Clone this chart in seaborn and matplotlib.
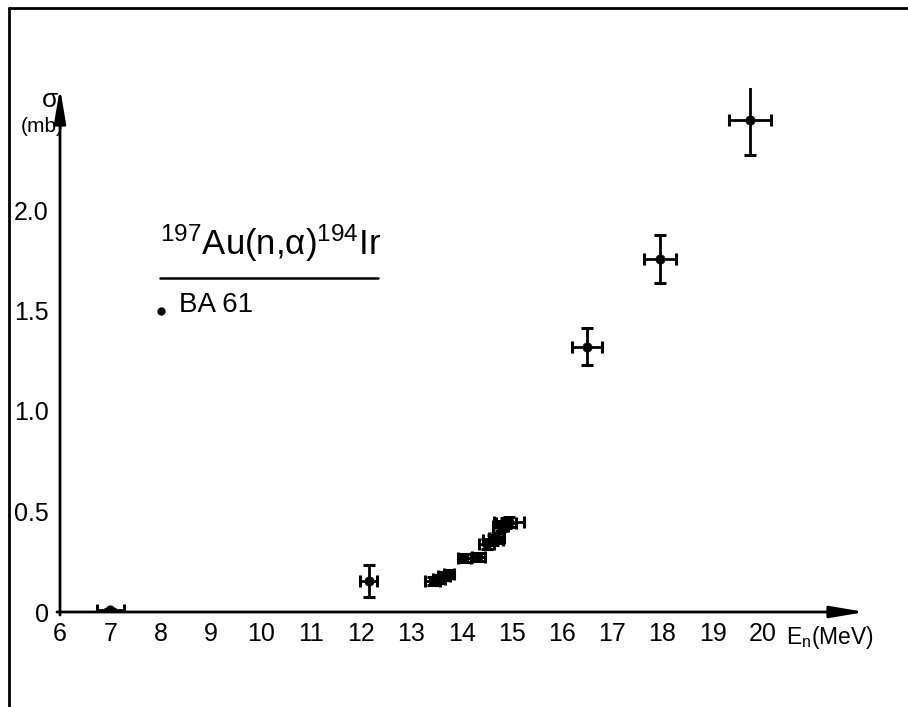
import matplotlib
matplotlib.use("Agg")
import matplotlib.pyplot as plt
from matplotlib.lines import Line2D
import seaborn as sns
import pandas as pd

# ---- data ----
energy = [7.0, 12.15, 13.42, 13.55, 13.65, 13.75, 14.05, 14.33, 14.5, 14.62,
          14.7, 14.78, 14.88, 14.95, 16.5, 17.95, 19.75]
sigma = [0.01, 0.155, 0.155, 0.165, 0.18, 0.19, 0.27, 0.275, 0.34, 0.36,
         0.37, 0.43, 0.445, 0.45, 1.32, 1.755, 2.45]
energy_err = [0.27, 0.17, 0.15, 0.12, 0.12, 0.1, 0.13, 0.13, 0.15, 0.2,
              0.15, 0.15, 0.2, 0.3, 0.3, 0.32, 0.42]
sigma_err = [0.006, 0.08, 0.02, 0.02, 0.02, 0.02, 0.02, 0.02, 0.025, 0.025,
             0.025, 0.025, 0.025, 0.025, 0.092, 0.12, 0.175]
x_ticks = [6, 7, 8, 9, 10, 11, 12, 13, 14, 15, 16, 17, 18, 19, 20]
y_ticks = [0, 0.5, 1.0, 1.5, 2.0]
y_tick_labels = ["0", "0.5", "1.0", "1.5", "2.0"]

df = pd.DataFrame({"E": energy, "sigma": sigma, "dE": energy_err, "ds": sigma_err})

sns.set_theme(style="white")
plt.rcParams["font.family"] = ["Liberation Sans", "DejaVu Sans"]
plt.rcParams["mathtext.fontset"] = "custom"
plt.rcParams["mathtext.rm"] = "Liberation Sans"
plt.rcParams["mathtext.it"] = "Liberation Sans"
plt.rcParams["text.color"] = "black"

W, H = 908, 707
fig = plt.figure(figsize=(W / 100, H / 100), dpi=100)
fig.patch.set_facecolor("white")

# axes: x 6 -> 60 px, 50.21 px/unit; y 0 -> 612 px from top, 201 px/unit
left_px, right_px = 60, 865
bottom_px, top_px = 612, 88
ax = fig.add_axes([left_px / W, (H - bottom_px) / H,
                   (right_px - left_px) / W, (bottom_px - top_px) / H])
xmax = 6 + (right_px - left_px) / 50.21
ymax = (bottom_px - top_px) / 201.0
ax.set_xlim(6, xmax)
ax.set_ylim(0, ymax)
ax.set_facecolor("white")

for s in ax.spines.values():
    s.set_visible(False)

# axes as arrows
arrow_kw = dict(arrowstyle="-|>,head_length=1.3,head_width=0.22", color="black",
                lw=2.0, mutation_scale=16, shrinkA=0, shrinkB=0)
ax.annotate("", xy=(xmax, 0), xytext=(5.94, 0), arrowprops=arrow_kw,
            annotation_clip=False)
ax.annotate("", xy=(6, ymax), xytext=(6, -0.015), arrowprops=arrow_kw,
            annotation_clip=False)

# error bars + points
ax.errorbar(df["E"], df["sigma"], xerr=df["dE"], yerr=df["ds"], fmt="none",
            ecolor="black", elinewidth=2.0, capsize=4.5, capthick=2.2, zorder=3)
sns.scatterplot(data=df, x="E", y="sigma", ax=ax, color="black", s=45,
                edgecolor="black", linewidth=0.5, zorder=4, legend=False)

ax.set_xticks(x_ticks)
ax.set_xticklabels([str(t) for t in x_ticks])
ax.set_yticks(y_ticks)
ax.set_yticklabels(y_tick_labels)
ax.tick_params(axis="both", which="major", direction="out", length=5, width=2,
               colors="black", labelsize=18, pad=2)
ax.tick_params(axis="y", pad=3)
ax.set_xlabel("")
ax.set_ylabel("")

# axis labels
ax.text(20.45, -0.06, r"E$_\mathregular{n}$(MeV)", fontsize=16.5, ha="left", va="top",
        transform=ax.transData, clip_on=False, color="black")
fig.text(50 / W, 1 - 100 / H, "σ", fontsize=19, ha="center", va="center",
         color="black")
fig.text(42 / W, 1 - 126 / H, "(mb)", fontsize=15, ha="center", va="center",
         color="black")

# reaction title with underline
fig.text(160 / W, 1 - 243 / H, r"$^{197}$Au(n,$\alpha$)$^{194}$Ir", fontsize=25,
         ha="left", va="center", color="black")
fig.add_artist(Line2D([160 / W, 378 / W], [1 - 278 / H, 1 - 278 / H],
                      color="black", lw=1.8))
# legend entry
fig.add_artist(Line2D([161 / W], [1 - 311 / H], marker="o", markersize=5,
                      color="black", linestyle="none"))
fig.text(179 / W, 1 - 305 / H, "BA 61", fontsize=20, ha="left", va="center",
         color="black")

# frame border (top and left)
fig.add_artist(Line2D([9 / W, 1.0], [1 - 8 / H, 1 - 8 / H], color="black", lw=2))
fig.add_artist(Line2D([9 / W, 9 / W], [0.0, 1 - 8 / H], color="black", lw=2))

fig.savefig("out.png", dpi=100, facecolor="white")
